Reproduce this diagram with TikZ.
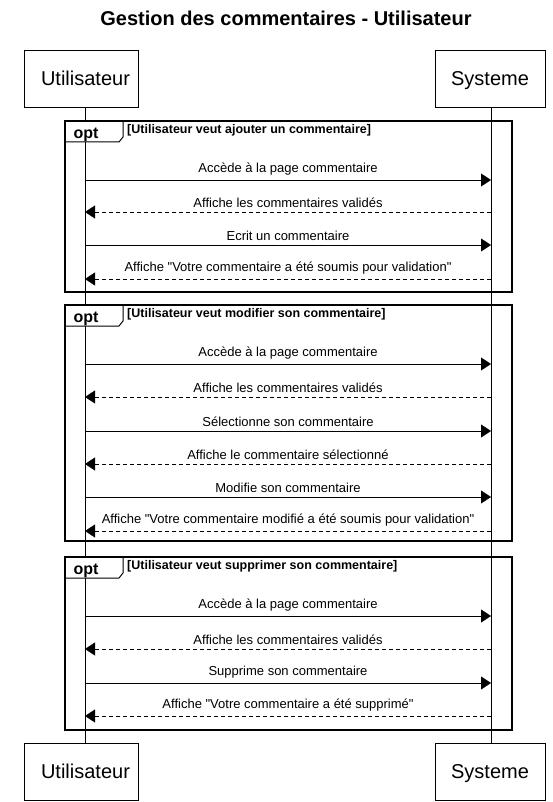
\documentclass[tikz,border=0pt]{standalone}
\usepackage{fontspec}
\setmainfont{Liberation Sans}[Ligatures=TeXOff]
\usetikzlibrary{arrows.meta}

\begin{document}
\begin{tikzpicture}[x=1pt, y=-1pt,
    actor/.style={draw, minimum width=114pt, minimum height=57pt, inner sep=0pt,
        text height=14pt, text depth=0pt, font=\fontsize{20}{24}\selectfont},
    msg/.style={-{Triangle[length=10pt, width=13pt]}},
    reply/.style={msg, dash pattern=on 4pt off 3pt},
    msgtext/.style={above=1pt, font=\fontsize{13}{15}\selectfont},
    optframe/.style={draw, line width=1.5pt},
    opttab/.style={draw, fill=white, line width=1pt},
    optlabel/.style={font=\bfseries\fontsize{16}{18}\selectfont},
    guard/.style={anchor=west, inner sep=0pt, font=\bfseries\fontsize{12.5}{14}\selectfont}]

    \useasboundingbox (0,0) rectangle (553,802);

    \node[font=\bfseries\fontsize{20}{24}\selectfont] (title) at (286,18) {Gestion des commentaires - Utilisateur};

    % participants
    \node[actor] (ut) at (81,78.5) {\hspace*{9pt}Utilisateur};
    \node[actor, minimum width=110pt] (sys) at (490,78.5) {Systeme};
    \node[actor] (utb) at (81,771.5) {\hspace*{9pt}Utilisateur};
    \node[actor, minimum width=110pt] (sysb) at (490,771.5) {Systeme};

    % lifelines
    \coordinate (lu) at (85,0);
    \coordinate (ls) at (491,0);
    \draw (ut.south -| lu) -- (utb.north -| lu);
    \draw (sys.south -| ls) -- (sysb.north -| ls);

    % opt frames
    \foreach \top/\bot/\txt in {121/292/{[Utilisateur veut ajouter un commentaire]},
                                305/541/{[Utilisateur veut modifier son commentaire]},
                                557/730/{[Utilisateur veut supprimer son commentaire]}} {
        \path[opttab] (65,\top) -- (123,\top) -- (123,\top+16) -- (119,\top+21) -- (65,\top+21) -- cycle;
        \draw[optframe] (65,\top) rectangle (512,\bot);
        \node[optlabel] (opt\top) at (86,\top+13.5) {opt};
        \node[guard] (g\top) at (127,\top+9) {\txt};
    }

    % messages
    \foreach \y/\txt in {180/Accède à la page commentaire, 245/Ecrit un commentaire,
                         364/Accède à la page commentaire, 431/Sélectionne son commentaire,
                         497/Modifie son commentaire, 616/Accède à la page commentaire,
                         683/Supprime son commentaire} {
        \coordinate (u\y) at (85,\y);
        \coordinate (s\y) at (491,\y);
        \draw[msg] (u\y) -- node[msgtext] {\txt} (s\y);
    }

    \foreach \y/\txt in {212/Affiche les commentaires validés,
                         279/Affiche "Votre commentaire a été soumis pour validation",
                         397/Affiche les commentaires validés,
                         464/Affiche le commentaire sélectionné,
                         531/Affiche "Votre commentaire modifié a été soumis pour validation",
                         649/Affiche les commentaires validés,
                         716/Affiche "Votre commentaire a été supprimé"} {
        \coordinate (u\y) at (85,\y);
        \coordinate (s\y) at (491,\y);
        \draw[reply] (s\y) -- node[msgtext] {\txt} (u\y);
    }
\end{tikzpicture}
\end{document}
